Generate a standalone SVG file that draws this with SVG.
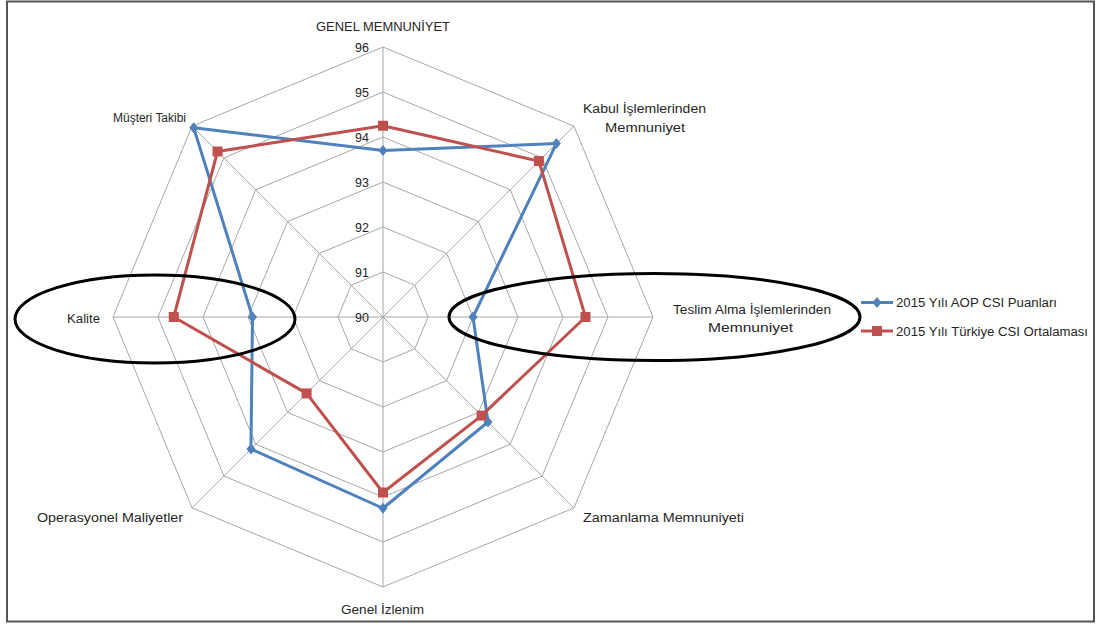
<svg xmlns="http://www.w3.org/2000/svg" width="1099" height="625" viewBox="0 0 1099 625">
  <style>
    .grid { fill: none; stroke: #a6a6a6; stroke-width: 1; }
    .axis { stroke: #a6a6a6; stroke-width: 1; }
    .lbl { font-family: "Liberation Sans", Arial, sans-serif; font-size: 12px; fill: #262626; }
    .tick { font-family: "Liberation Sans", Arial, sans-serif; font-size: 12.5px; fill: #262626; text-anchor: end; }
    .s1 { fill: none; stroke: #4f81bd; stroke-width: 3; stroke-linejoin: round; }
    .s2 { fill: none; stroke: #c0504d; stroke-width: 3; stroke-linejoin: round; }
    .ring { fill: none; stroke: #000; stroke-width: 3; }
  </style>
  <defs>
    <path id="dia" d="M0,-5.5 L4.5,0 L0,5.5 L-4.5,0 Z" fill="#4f81bd"/>
    <rect id="sq" x="-5" y="-5" width="10" height="10" fill="#c0504d"/>
  </defs>

  <rect x="0" y="0" width="1099" height="625" fill="#ffffff"/>
  <rect x="7" y="1.5" width="1087" height="620" fill="none" stroke="#555" stroke-width="2"/>

  <!-- radar grid: rings for 91..96 and 8 spokes -->
  <g id="grid">
    <polygon class="grid" points="383,272 414.82,285.18 428,317 414.82,348.82 383,362 351.18,348.82 338,317 351.18,285.18"/>
    <polygon class="grid" points="383,227 446.64,253.36 473,317 446.64,380.64 383,407 319.36,380.64 293,317 319.36,253.36"/>
    <polygon class="grid" points="383,182 478.46,221.54 518,317 478.46,412.46 383,452 287.54,412.46 248,317 287.54,221.54"/>
    <polygon class="grid" points="383,137 510.28,189.72 563,317 510.28,444.28 383,497 255.72,444.28 203,317 255.72,189.72"/>
    <polygon class="grid" points="383,92 542.1,157.9 608,317 542.1,476.1 383,542 223.9,476.1 158,317 223.9,157.9"/>
    <polygon class="grid" points="383,47 573.92,126.08 653,317 573.92,507.92 383,587 192.08,507.92 113,317 192.08,126.08"/>
    <line class="axis" x1="383" y1="317" x2="383" y2="47"/>
    <line class="axis" x1="383" y1="317" x2="573.92" y2="126.08"/>
    <line class="axis" x1="383" y1="317" x2="653" y2="317"/>
    <line class="axis" x1="383" y1="317" x2="573.92" y2="507.92"/>
    <line class="axis" x1="383" y1="317" x2="383" y2="587"/>
    <line class="axis" x1="383" y1="317" x2="192.08" y2="507.92"/>
    <line class="axis" x1="383" y1="317" x2="113" y2="317"/>
    <line class="axis" x1="383" y1="317" x2="192.08" y2="126.08"/>
  </g>

  <!-- scale values -->
  <g id="ticks">
    <text class="tick" x="369" y="52">96</text>
    <text class="tick" x="369" y="97">95</text>
    <text class="tick" x="369" y="142">94</text>
    <text class="tick" x="369" y="187">93</text>
    <text class="tick" x="369" y="232">92</text>
    <text class="tick" x="369" y="277">91</text>
    <text class="tick" x="369" y="322">90</text>
  </g>

  <!-- category labels -->
  <g id="labels">
    <text class="lbl" x="383" y="31" text-anchor="middle" textLength="134" lengthAdjust="spacingAndGlyphs">GENEL MEMNUNİYET</text>
    <text class="lbl" x="113" y="122" textLength="73" lengthAdjust="spacingAndGlyphs">Müşteri Takibi</text>
    <text class="lbl" x="583" y="113" textLength="123" lengthAdjust="spacingAndGlyphs">Kabul İşlemlerinden</text>
    <text class="lbl" x="605" y="132" textLength="80" lengthAdjust="spacingAndGlyphs">Memnuniyet</text>
    <text class="lbl" x="673" y="314" textLength="158" lengthAdjust="spacingAndGlyphs">Teslim Alma İşlemlerinden</text>
    <text class="lbl" x="708" y="332" textLength="85" lengthAdjust="spacingAndGlyphs">Memnuniyet</text>
    <text class="lbl" x="583" y="522" textLength="161" lengthAdjust="spacingAndGlyphs">Zamanlama Memnuniyeti</text>
    <text class="lbl" x="341" y="614" textLength="83" lengthAdjust="spacingAndGlyphs">Genel İzlenim</text>
    <text class="lbl" x="37" y="522" textLength="146" lengthAdjust="spacingAndGlyphs">Operasyonel Maliyetler</text>
    <text class="lbl" x="67" y="323" textLength="33" lengthAdjust="spacingAndGlyphs">Kalite</text>
  </g>

  <!-- data series -->
  <g id="series-aop">
    <polygon class="s1" points="383,150.5 556.4,143.6 473,317 488,422 383,508.25 250.95,449.05 252.5,317 193.7,127.7"/>
    <use href="#dia" x="383" y="150.5"/>
    <use href="#dia" x="556.4" y="143.6"/>
    <use href="#dia" x="473" y="317"/>
    <use href="#dia" x="488" y="422"/>
    <use href="#dia" x="383" y="508.25"/>
    <use href="#dia" x="250.95" y="449.05"/>
    <use href="#dia" x="252.5" y="317"/>
    <use href="#dia" x="193.7" y="127.7"/>
  </g>
  <g id="series-turkiye">
    <polygon class="s2" points="383,125.75 538.9,161.1 585.5,317 481.6,415.6 383,492.5 306.6,393.4 173.75,317 217.5,151.5"/>
    <use href="#sq" x="383" y="125.75"/>
    <use href="#sq" x="538.9" y="161.1"/>
    <use href="#sq" x="585.5" y="317"/>
    <use href="#sq" x="481.6" y="415.6"/>
    <use href="#sq" x="383" y="492.5"/>
    <use href="#sq" x="306.6" y="393.4"/>
    <use href="#sq" x="173.75" y="317"/>
    <use href="#sq" x="217.5" y="151.5"/>
  </g>

  <!-- highlight rings -->
  <g id="highlights">
    <ellipse class="ring" cx="155" cy="319" rx="140" ry="44"/>
    <ellipse class="ring" cx="654.5" cy="317" rx="205.5" ry="43.5"/>
  </g>

  <!-- legend -->
  <g id="legend">
    <line x1="861" y1="302.5" x2="893" y2="302.5" stroke="#4f81bd" stroke-width="3"/>
    <use href="#dia" x="877" y="302.5"/>
    <text class="lbl" x="896" y="307" textLength="161" lengthAdjust="spacingAndGlyphs">2015 Yılı AOP CSI Puanları</text>
    <line x1="861" y1="331" x2="893" y2="331" stroke="#c0504d" stroke-width="3"/>
    <use href="#sq" x="877" y="331"/>
    <text class="lbl" x="896" y="336" textLength="192" lengthAdjust="spacingAndGlyphs">2015 Yılı Türkiye CSI Ortalaması</text>
  </g>
</svg>
